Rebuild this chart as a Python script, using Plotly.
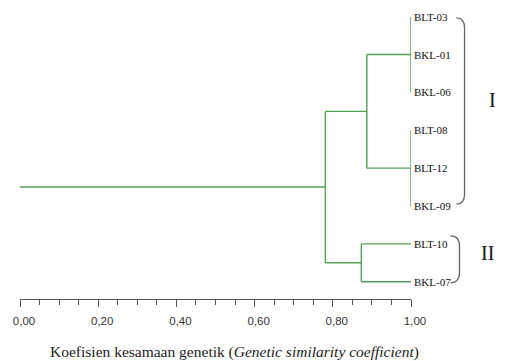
import plotly.graph_objects as go

# ---------------- data ----------------
leaf_labels = ["BLT-03", "BKL-01", "BKL-06", "BLT-08", "BLT-12", "BKL-09", "BLT-10", "BKL-07"]
merge_names = ["A", "B", "I", "II", "root"]
merge_children = [
    ["BLT-03", "BKL-01", "BKL-06"],
    ["BLT-08", "BLT-12", "BKL-09"],
    ["A", "B"],
    ["BLT-10", "BKL-07"],
    ["I", "II"],
]
merge_similarity = [1.00, 1.00, 0.887, 0.873, 0.781]
root_start = 0.0
tick_values = [0.0, 0.2, 0.4, 0.6, 0.8, 1.0]
tick_labels = ["0,00", "0,20", "0,40", "0,60", "0,80", "1,00"]
cluster_labels = ["I", "II"]
x_title = "Koefisien kesamaan genetik (<i>Genetic similarity coefficient</i>)"

# ---------------- tree geometry via data ----------------
ypos = {name: i for i, name in enumerate(leaf_labels)}
height = {name: 1.0 for name in leaf_labels}
xs, ys = [], []
for name, kids, sim in zip(merge_names, merge_children, merge_similarity):
    kid_y = [ypos[k] for k in kids]
    ypos[name] = sum(kid_y) / len(kid_y)
    height[name] = sim
    xs += [sim, sim, None]
    ys += [min(kid_y), max(kid_y), None]
    for k in kids:
        xs += [sim, height[k], None]
        ys += [ypos[k], ypos[k], None]
xs += [root_start, height["root"], None]
ys += [ypos["root"], ypos["root"], None]

LINE_GREEN = "#52a052"
Y_BOTTOM, Y_TOP = 7.457, -0.441


def py(idx):
    return (Y_BOTTOM - idx) / (Y_BOTTOM - Y_TOP)


fig = go.Figure()
fig.add_trace(go.Scatter(x=xs, y=ys, mode="lines",
                         line=dict(color=LINE_GREEN, width=1.4),
                         hoverinfo="skip", showlegend=False))

annotations = []
for name in leaf_labels:
    annotations.append(dict(x=1.0, xref="paper", y=ypos[name], yref="y", text=name,
                            showarrow=False, xanchor="left", yanchor="middle", xshift=1,
                            font=dict(family="Liberation Serif", size=11, color="#111")))

# cluster brackets and numerals
brackets = [(0.03, 4.95, 1.116, 1.137), (5.79, 7.03, 1.101, 1.124)]
numeral_pos = [(1.208, 2.2), (1.195, 6.24)]
shapes = []
for (yt, yb, x0, x1) in brackets:
    t, b = py(yt), py(yb)
    d = 0.035
    path = (f"M {x0},{t} Q {x1},{t} {x1},{t - d} L {x1},{b + d} "
            f"Q {x1},{b} {x0},{b}")
    shapes.append(dict(type="path", path=path, xref="paper", yref="paper",
                       line=dict(color="#666", width=1.3)))
for lab, (xp, yi) in zip(cluster_labels, numeral_pos):
    annotations.append(dict(x=xp, xref="paper", y=yi, yref="y", text=lab, showarrow=False,
                            xanchor="center", yanchor="middle",
                            font=dict(family="Liberation Serif", size=20, color="#111")))

annotations.append(dict(x=0.549, xref="paper", y=-0.177, yref="paper", text=x_title,
                        showarrow=False, xanchor="center", yanchor="middle",
                        font=dict(family="Liberation Serif", size=15.5, color="#222")))

fig.update_layout(
    width=507, height=361,
    margin=dict(l=20, r=95.5, t=0, b=62),
    paper_bgcolor="white", plot_bgcolor="white",
    annotations=annotations, shapes=shapes,
    xaxis=dict(range=[0, 1], showline=True, linecolor="#555", linewidth=1,
               ticks="outside", ticklen=7, tickcolor="#555", tickwidth=1,
               tickmode="array", tickvals=tick_values, ticktext=tick_labels,
               tickfont=dict(family="Liberation Sans", size=11.5, color="#333"),
               ticklabelstandoff=4, ticklabelshift=4,
               minor=dict(tickmode="linear", tick0=0, dtick=0.05, ticks="outside",
                          ticklen=5, tickcolor="#555", tickwidth=1, showgrid=False),
               showgrid=False, zeroline=False, fixedrange=True),
    yaxis=dict(range=[Y_BOTTOM, Y_TOP], visible=False, showgrid=False, zeroline=False,
               fixedrange=True),
)

fig.write_html("out.html", config={"displayModeBar": False},
               post_script="document.body.style.margin='0px';")
